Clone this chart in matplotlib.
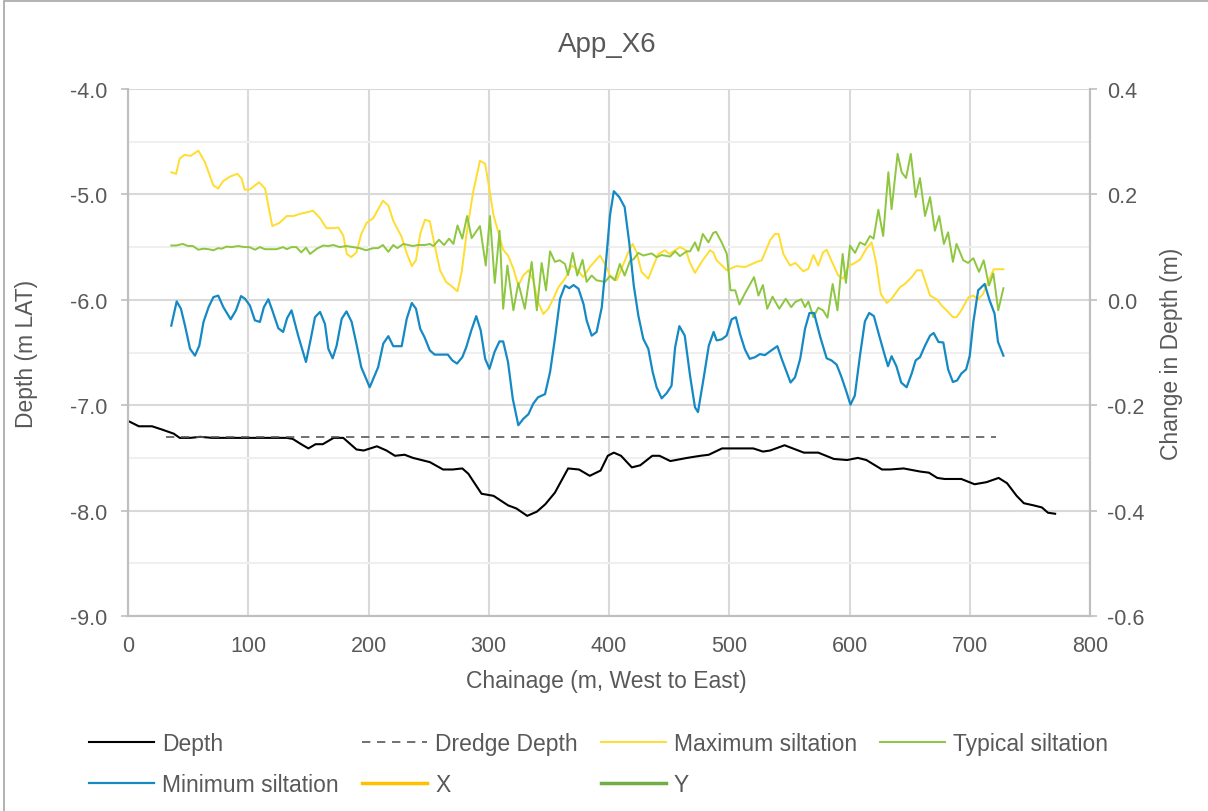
import matplotlib
matplotlib.use('Agg')
import matplotlib.pyplot as plt
from matplotlib.patches import Rectangle
from matplotlib.ticker import MultipleLocator, FormatStrFormatter

plt.rcParams['font.family'] = ['Liberation Sans', 'DejaVu Sans']

# ---- data ----
depth_chainage = [0, 2, 9, 20, 28, 38, 43, 52, 60, 70, 132, 137, 144, 150, 156, 162, 171, 179, 190, 196,
                  207, 215, 222, 230, 237, 251, 262, 270, 278, 283, 294, 304, 316, 323, 332, 340, 347, 355, 366, 375,
                  384, 393, 399, 404, 410, 419, 426, 436, 442, 451, 465, 476, 483, 494, 520, 528, 534, 546, 562, 574,
                  587, 598, 607, 614, 627, 634, 645, 659, 666, 673, 679, 693, 704, 714, 724, 731, 739, 745, 753, 760,
                  765, 771]
depth = [-7.15, -7.16, -7.20, -7.20, -7.23, -7.27, -7.31, -7.31, -7.30, -7.31,
         -7.31, -7.32, -7.37, -7.41, -7.37, -7.37, -7.31, -7.31, -7.42, -7.43,
         -7.39, -7.43, -7.48, -7.47, -7.50, -7.54, -7.61, -7.61, -7.60, -7.65,
         -7.84, -7.86, -7.95, -7.98, -8.05, -8.01, -7.94, -7.83, -7.60, -7.61,
         -7.67, -7.62, -7.48, -7.45, -7.48, -7.59, -7.57, -7.48, -7.48, -7.53,
         -7.50, -7.48, -7.47, -7.41, -7.41, -7.44, -7.43, -7.38, -7.45, -7.45,
         -7.51, -7.52, -7.50, -7.52, -7.61, -7.61, -7.60, -7.63, -7.64, -7.69,
         -7.70, -7.70, -7.75, -7.73, -7.69, -7.74, -7.86, -7.93, -7.95, -7.97,
         -8.02, -8.03]

dredge_chainage = [32, 722]
dredge_depth = [-7.3, -7.3]

max_chainage = [36, 40, 43, 47, 52, 58.5, 64, 71, 75, 79, 85, 91, 94.5, 97, 101, 109, 114, 120, 126, 132,
                137.5, 143, 154, 160, 165, 171, 175, 179, 182, 185.5, 190, 194, 198.5, 204, 212, 216.5, 220.6,
                227.6, 232, 236, 239.5, 243, 247, 251, 254.5, 259.5, 264.5, 269, 274, 277.5, 281.7, 287, 292.7,
                297, 299.6, 304, 308, 312, 316, 320.5, 324.6, 328.7, 333, 337, 341, 345.4, 349.5, 353.7, 358,
                363.4, 369, 373, 378.6, 384, 392.5, 396.7, 400.8, 406.4, 412, 416, 419.7, 423, 427, 432.7, 437,
                441, 446.6, 450, 455, 459, 464, 467, 471.5, 477, 484, 486.7, 489.5, 498, 506, 513, 523, 527, 534,
                538, 541, 545, 550.5, 555, 561.6, 565.8, 570, 574, 578, 581, 585, 590.7, 594.8, 599, 603, 608.7,
                614, 618.4, 622, 626, 631, 635, 642, 646, 651.7, 656, 660, 667, 672.5, 676.7, 682, 686, 689, 693,
                699, 703, 707, 711, 717, 720, 728]
max_silt = [0.242, 0.239, 0.268, 0.275, 0.273, 0.283, 0.261, 0.217, 0.211, 0.225, 0.234, 0.239, 0.230, 0.209,
            0.209, 0.223, 0.211, 0.140, 0.146, 0.159, 0.159, 0.163, 0.169, 0.154, 0.136, 0.136, 0.137, 0.122,
            0.087, 0.081, 0.090, 0.125, 0.146, 0.155, 0.188, 0.179, 0.150, 0.119, 0.087, 0.064, 0.075, 0.125,
            0.152, 0.149, 0.109, 0.056, 0.034, 0.026, 0.016, 0.053, 0.128, 0.204, 0.264, 0.258, 0.223, 0.160,
            0.128, 0.095, 0.084, 0.059, 0.027, 0.046, 0.056, 0.037, -0.004, -0.027, -0.017, 0.002, 0.024,
            0.040, 0.065, 0.059, 0.043, 0.062, 0.084, 0.068, 0.046, 0.037, 0.068, 0.090, 0.106, 0.090, 0.053,
            0.040, 0.065, 0.087, 0.094, 0.087, 0.094, 0.100, 0.094, 0.072, 0.051, 0.072, 0.094, 0.090, 0.075,
            0.056, 0.064, 0.062, 0.072, 0.075, 0.113, 0.125, 0.125, 0.087, 0.065, 0.070, 0.054, 0.059, 0.085,
            0.065, 0.090, 0.095, 0.074, 0.046, 0.040, 0.064, 0.068, 0.076, 0.097, 0.109, 0.072, 0.011, -0.006,
            0.002, 0.024, 0.030, 0.043, 0.056, 0.056, 0.008, 0.001, -0.011, -0.023, -0.033, -0.033, -0.020,
            0.005, 0.008, 0.001, 0.011, 0.043, 0.058, 0.058]

typ_chainage = [36, 40, 45.5, 50, 54, 58.5, 62.8, 67, 71, 75, 78, 82, 86, 91.6, 97, 101, 105.6, 109.7, 113.9,
                118, 123.5, 129, 132, 136, 140, 144, 148, 151.4, 157, 162.4, 166.6, 170.7, 176, 181.7, 187,
                192.6, 198, 204, 208, 212, 216.5, 220.6, 224, 229, 233, 237, 241.3, 247, 251, 254, 258.6, 262.8,
                267, 270.6, 274, 278, 282, 285.8, 292.7, 297.5, 301, 305, 309, 312, 315.5, 320.5, 324.6, 330,
                335.7, 340, 344, 347.6, 351, 355, 359, 363.4, 366, 369.8, 373.6, 378, 381.4, 385.6, 389.7,
                396.7, 400.8, 404.9, 409, 413, 417.5, 420.4, 424.4, 428.5, 435.5, 439.6, 443.7, 450.7, 455, 459,
                464.6, 467.4, 471.5, 474.3, 478, 482.7, 486.7, 489, 493.7, 498, 501, 505, 508.4, 513, 520.6,
                524.3, 528, 531.6, 536, 541.6, 547, 551.5, 555, 560, 563, 565.8, 570, 574, 578, 581.7, 586, 590,
                594.3, 597, 600.4, 604.6, 608.7, 612.9, 617, 620, 624, 628, 632.3, 635, 640, 643.4, 647, 651,
                655, 658.6, 662.8, 667, 671, 674.6, 678.5, 682, 686, 689, 694.6, 698.6, 703, 707.7, 711.6, 716,
                719.6, 723.7, 728]
typ_silt = [0.103, 0.103, 0.106, 0.102, 0.102, 0.095, 0.097, 0.096, 0.094, 0.098, 0.097, 0.101, 0.100, 0.102,
            0.100, 0.100, 0.095, 0.100, 0.096, 0.096, 0.096, 0.100, 0.096, 0.100, 0.100, 0.090, 0.099, 0.087,
            0.097, 0.103, 0.102, 0.104, 0.100, 0.102, 0.100, 0.098, 0.094, 0.098, 0.098, 0.104, 0.091, 0.104,
            0.098, 0.106, 0.104, 0.102, 0.104, 0.104, 0.106, 0.102, 0.114, 0.104, 0.116, 0.106, 0.141, 0.116,
            0.159, 0.117, 0.140, 0.065, 0.159, 0.032, 0.131, -0.017, 0.065, -0.020, 0.032, -0.017, 0.072,
            -0.020, 0.070, 0.018, 0.092, 0.072, 0.075, 0.068, 0.047, 0.089, 0.046, 0.076, 0.034, 0.046, 0.037,
            0.034, 0.045, 0.037, 0.068, 0.046, 0.074, 0.077, 0.089, 0.084, 0.088, 0.081, 0.085, 0.082, 0.092,
            0.083, 0.092, 0.092, 0.109, 0.093, 0.125, 0.109, 0.127, 0.129, 0.109, 0.087, 0.018, 0.018, -0.009,
            0.012, 0.043, 0.008, 0.028, -0.017, 0.006, -0.017, 0.002, -0.014, -0.004, 0.001, -0.014, -0.003,
            -0.033, -0.015, -0.020, -0.034, 0.030, -0.020, 0.087, 0.032, 0.103, 0.089, 0.109, 0.104, 0.121,
            0.116, 0.171, 0.121, 0.242, 0.172, 0.277, 0.242, 0.231, 0.277, 0.195, 0.231, 0.159, 0.195, 0.131,
            0.159, 0.106, 0.128, 0.072, 0.106, 0.075, 0.070, 0.079, 0.053, 0.075, 0.027, 0.050, -0.020, 0.022]

min_chainage = [36, 40.5, 44, 47.4, 51.6, 55.7, 59.3, 62.8, 67, 71, 75, 79.3, 85.4, 89.8, 94, 97.3, 101.4, 105.5,
                109.7, 113, 116.7, 120, 125, 129, 132.3, 136, 141.5, 148, 152, 155.5, 159.7, 163.8, 166.6, 170.2,
                173.5, 177.7, 181.7, 186, 190, 194, 201, 205, 208, 212.3, 216.5, 220.6, 227.6, 231.8, 236, 239.5,
                243, 246.6, 251, 255, 266, 269.7, 273.6, 278, 281.3, 285.5, 289.6, 293.3, 297, 300.6, 304.8,
                308.9, 312, 316, 320, 324.6, 328.7, 333, 337, 341, 346.8, 351, 355, 359.3, 363.4, 367, 370.5,
                374.6, 378.8, 381.4, 385.6, 389.7, 394, 397.5, 400.8, 404, 408.5, 413, 416.8, 420.6, 424.4, 428.5,
                432.7, 436.3, 439.6, 443.8, 448, 452, 455, 458.5, 463, 467.4, 471.5, 474, 478.6, 483, 487, 489.5,
                493.7, 497.8, 502, 505.5, 509, 513, 517, 521.3, 525.5, 529.6, 535, 540, 543.6, 547.7, 551, 554.7,
                559, 563, 566.7, 570.5, 575.6, 581, 585, 589.3, 593.4, 597.5, 600.8, 604.4, 608.7, 612.8, 616.4,
                620.3, 624.7, 629.4, 632, 635, 639, 643, 647.5, 651.7, 655, 658.6, 662.8, 667, 670, 674, 678, 682,
                686, 689.5, 693, 697, 700, 703, 707, 712.4, 716.5, 720.6, 723.5, 728]
min_silt = [-0.049, -0.003, -0.017, -0.049, -0.093, -0.106, -0.087, -0.042, -0.014, 0.005, 0.008, -0.014,
            -0.037, -0.020, 0.007, 0.002, -0.011, -0.039, -0.042, -0.014, 0.001, -0.020, -0.054, -0.061, -0.035,
            -0.020, -0.068, -0.118, -0.074, -0.033, -0.023, -0.046, -0.093, -0.111, -0.087, -0.036, -0.022,
            -0.042, -0.084, -0.128, -0.166, -0.144, -0.128, -0.083, -0.069, -0.088, -0.088, -0.036, -0.006,
            -0.017, -0.055, -0.071, -0.096, -0.104, -0.104, -0.115, -0.121, -0.109, -0.090, -0.058, -0.031,
            -0.058, -0.112, -0.131, -0.099, -0.079, -0.079, -0.118, -0.188, -0.238, -0.226, -0.217, -0.197,
            -0.185, -0.179, -0.137, -0.074, 0.002, 0.027, 0.022, 0.028, 0.021, -0.008, -0.039, -0.068, -0.061,
            -0.014, 0.072, 0.160, 0.206, 0.195, 0.176, 0.109, 0.027, -0.030, -0.074, -0.093, -0.137, -0.166,
            -0.187, -0.177, -0.163, -0.090, -0.050, -0.068, -0.144, -0.204, -0.213, -0.150, -0.087, -0.061,
            -0.077, -0.075, -0.068, -0.037, -0.033, -0.065, -0.094, -0.112, -0.109, -0.103, -0.105, -0.096,
            -0.088, -0.112, -0.137, -0.157, -0.147, -0.112, -0.055, -0.025, -0.025, -0.070, -0.111, -0.115,
            -0.123, -0.147, -0.175, -0.199, -0.182, -0.106, -0.041, -0.025, -0.031, -0.068, -0.106, -0.126,
            -0.107, -0.126, -0.157, -0.166, -0.140, -0.115, -0.109, -0.087, -0.068, -0.063, -0.080, -0.081,
            -0.132, -0.156, -0.153, -0.140, -0.132, -0.106, -0.042, 0.018, 0.030, -0.001, -0.026, -0.080, -0.106]

# X and Y are listed in the legend but carry no visible points
x_series = []
y_series = []

text_color = '#595959'
grid_color = '#d9d9d9'

fig = plt.figure(figsize=(12.08, 8.12), dpi=100)
ax1 = fig.add_axes([128 / 1208, 1 - 617 / 812, (1090 - 128) / 1208, (617 - 90) / 812])
ax2 = ax1.twinx()

# Depth on the left axis
ax1.plot(depth_chainage, depth, color='black', lw=1.5, label='Depth')
ax1.plot(dredge_chainage, dredge_depth, color='#595959', lw=1.2, dashes=(5, 4), label='Dredge Depth')

# Siltation on the right axis
ax2.plot(max_chainage, max_silt, color='#FFDD2E', lw=1.4, label='Maximum siltation')
ax2.plot(typ_chainage, typ_silt, color='#8DC63F', lw=1.4, label='Typical siltation')
ax2.plot(min_chainage, min_silt, color='#1589C4', lw=1.6, label='Minimum siltation')
ax2.plot(x_series, x_series, color='#FFC000', lw=2.5, label='X')
ax2.plot(y_series, y_series, color='#70AD47', lw=2.5, label='Y')

ax1.set_xlim(0, 800)
ax1.set_ylim(-9, -4)
ax2.set_ylim(-0.6, 0.4)

ax1.xaxis.set_major_locator(MultipleLocator(100))
ax1.yaxis.set_major_locator(MultipleLocator(1.0))
ax1.yaxis.set_minor_locator(MultipleLocator(0.5))
ax1.yaxis.set_major_formatter(FormatStrFormatter('%.1f'))
ax2.yaxis.set_major_locator(MultipleLocator(0.2))
ax2.yaxis.set_major_formatter(FormatStrFormatter('%.1f'))

ax1.grid(True, which='major', color=grid_color, lw=1.5)
ax1.grid(True, which='minor', axis='y', color='#efefef', lw=1.5)
ax1.set_axisbelow(True)

for ax in (ax1, ax2):
    for side in ('left', 'right', 'bottom'):
        ax.spines[side].set_color('#bfbfbf')
        ax.spines[side].set_linewidth(1.5)
    ax.spines['top'].set_visible(False)
    ax.tick_params(axis='both', which='major', colors='#bfbfbf', labelcolor=text_color,
                   labelsize=15.5, length=5, width=1.2)
ax1.tick_params(axis='y', which='minor', length=0)
ax1.tick_params(axis='y', pad=10)
ax2.tick_params(axis='y', pad=7)
ax1.tick_params(axis='x', length=0, pad=14)

ax1.set_xlabel('Chainage (m, West to East)', fontsize=16.5, color=text_color)
ax1.set_ylabel('Depth (m LAT)', fontsize=16.5, color=text_color)
ax2.set_ylabel('Change in Depth (m)', fontsize=16.5, color=text_color)
ax1.xaxis.set_label_coords(0.497, -0.1)
ax1.yaxis.set_label_coords(-0.094, 0.5)
ax2.yaxis.set_label_coords(1.073, 0.5)
fig.text(607 / 1208, 1 - 45 / 812, 'App_X6', ha='center', va='center', fontsize=20, color=text_color)

# legend in the same order as the reference, laid out in two rows
h1, l1 = ax1.get_legend_handles_labels()
h2, l2 = ax2.get_legend_handles_labels()
handles = dict(zip(l1 + l2, h1 + h2))
order = ['Depth', 'Minimum siltation', 'Dredge Depth', 'X', 'Maximum siltation', 'Y', 'Typical siltation']
leg = fig.legend([handles[k] for k in order], order, ncol=4, loc='center',
                 bbox_to_anchor=(0.4955, 1 - 765 / 812), frameon=False, fontsize=16.5,
                 handlelength=2.85, handletextpad=0.35, columnspacing=1.0, labelspacing=0.78)
for t in leg.get_texts():
    t.set_color(text_color)

# chart-area border
fig.add_artist(Rectangle((0.003, -0.01), 1.0, 1.007, transform=fig.transFigure,
                         fill=False, ec='#a6a6a6', lw=1.2))

fig.savefig('out.png', dpi=100)
